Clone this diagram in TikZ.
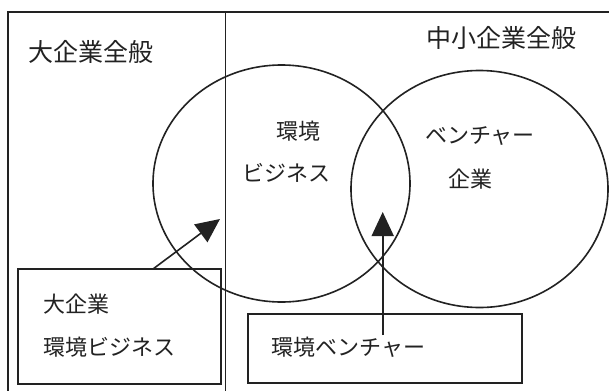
\documentclass[tikz,border=0pt]{standalone}
\usepackage{fontspec}
\setmainfont{Noto Sans CJK JP}
\usetikzlibrary{shapes.geometric,arrows.meta}
\definecolor{ink}{HTML}{222222}
\tikzset{
  ln/.style={draw=ink, line width=1.6pt},
  venn/.style={ln, ellipse, inner sep=0pt, minimum width=257pt, minimum height=237pt},
  frame/.style={ln, rectangle, inner sep=0pt},
  head/.style={text=ink, font=\fontsize{25pt}{27pt}\selectfont, inner sep=0pt},
  lbl/.style={text=ink, font=\fontsize{22pt}{24pt}\selectfont, inner sep=0pt},
  arr/.style={ln, -{Triangle[length=24pt,width=22pt]}},
}
\begin{document}
\begin{tikzpicture}[x=1pt,y=-1pt]
\useasboundingbox (0,0) rectangle (609,391);
\fill[white] (0,0) rectangle (609,391);
% outer frame and divider
\draw[ln] (609,12) -- (8,12) -- (8,391);
\draw[ln] (225.5,12) -- (225.5,391);
% headings
\node[head] (hbig) at (91,51.5) {大企業全般};
\node[head] (hsme) at (501,37.5) {中小企業全般};
% venn circles
\node[venn] (cenv) at (281.5,183.5) {};
\node[venn] (cvent) at (479.5,189) {};
\node[lbl] (tenv1) at (298,131) {環境};
\node[lbl] (tenv2) at (286,173) {ビジネス};
\node[lbl] (tv1) at (480,136) {ベンチャー};
\node[lbl] (tv2) at (470,179) {企業};
% boxes
\node[frame, minimum width=203pt, minimum height=115pt] (lbox) at (119.5,326.5) {};
\node[lbl, anchor=west] (lb1) at (43,304) {大企業};
\node[lbl, anchor=west] (lb2) at (43,347) {環境ビジネス};
\node[frame, minimum width=273.5pt, minimum height=69pt] (rbox) at (385,348.5) {};
\node[lbl] (rb1) at (348.5,347) {環境ベンチャー};
% arrows
\coordinate (a1s) at (153,269);
\coordinate (a1e) at (220,219);
\coordinate (a2s) at (382.7,335);
\coordinate (a2e) at (382.7,212);
\draw[arr] (a1s) -- (a1e);
\draw[arr] (a2s) -- (a2e);
\end{tikzpicture}
\end{document}
